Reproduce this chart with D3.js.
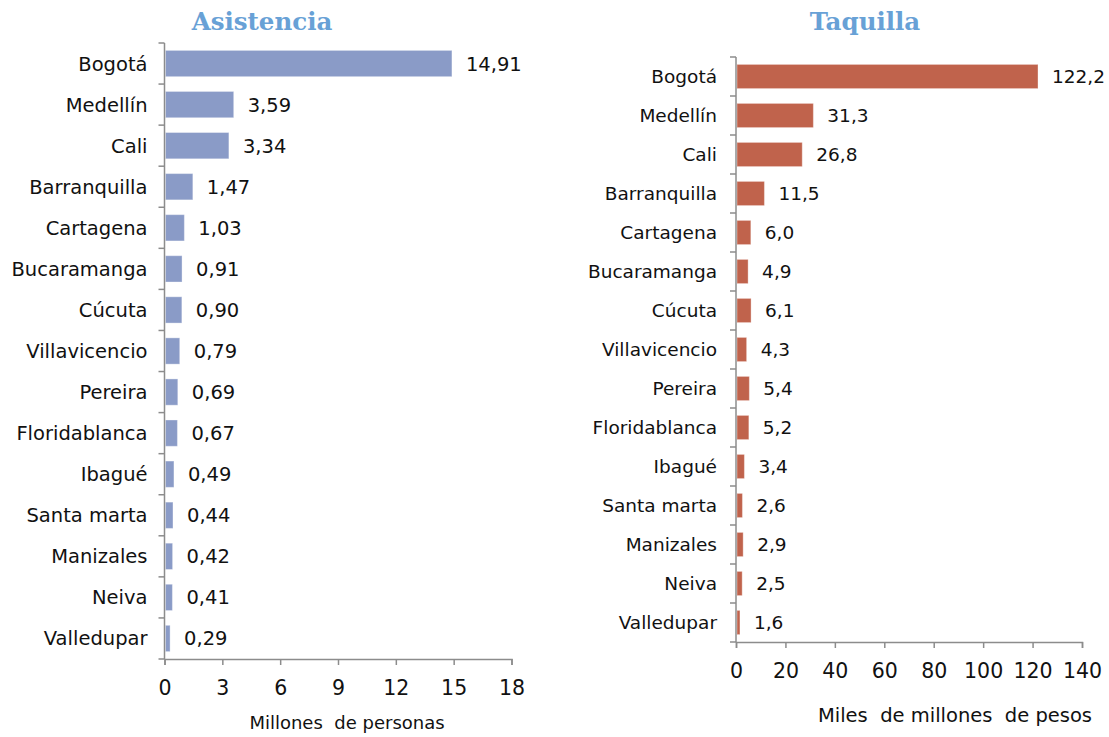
<!DOCTYPE html>
<html><head><meta charset="utf-8">
<script src="https://cdn.jsdelivr.net/npm/d3@7"></script>
<style>body{margin:0;background:#fff}svg{display:block}</style>
</head><body>
<svg id="c" width="1109" height="737"></svg>
<script>
const cities = ["Bogotá","Medellín","Cali","Barranquilla","Cartagena","Bucaramanga","Cúcuta","Villavicencio","Pereira","Floridablanca","Ibagué","Santa marta","Manizales","Neiva","Valledupar"];
const asistencia = [14.91,3.59,3.34,1.47,1.03,0.91,0.90,0.79,0.69,0.67,0.49,0.44,0.42,0.41,0.29];
const taquilla = [122.2,31.3,26.8,11.5,6.0,4.9,6.1,4.3,5.4,5.2,3.4,2.6,2.9,2.5,1.6];
const asisTicks = [0,3,6,9,12,15,18];
const taqTicks = [0,20,40,60,80,100,120,140];

const svg = d3.select("#c");
const FONT = "DejaVu Sans, Verdana, sans-serif";
const AX = "#8c8c8c";

function panel(o){
  const g = svg.append("g");
  const x = d3.scaleLinear().domain([0, o.ticks[o.ticks.length-1]]).range([o.x0, o.x1]);
  const y = d3.scaleBand().domain(cities).range([o.y0, o.y1]).paddingInner(o.pad).paddingOuter(o.pad/2);
  g.append("text").attr("x", o.tx).attr("y", o.ty).attr("text-anchor","middle")
    .attr("font-family","DejaVu Serif, Cambria, serif").attr("font-weight","bold")
    .attr("font-size",24.5).attr("fill","#68a1d6").text(o.title);
  g.selectAll("rect.b").data(o.values).join("rect")
    .attr("x", x(0)+1).attr("y",(d,i)=>y(cities[i]))
    .attr("width", d=>x(d)-x(0)-1).attr("height", y.bandwidth())
    .attr("fill", o.color).attr("stroke","#ffffff").attr("stroke-opacity",0.35).attr("stroke-width",1);
  g.selectAll("text.v").data(o.values).join("text")
    .attr("x", d=>x(d)+14).attr("y",(d,i)=>y(cities[i])+y.bandwidth()/2)
    .attr("dy","0.36em").attr("font-family",FONT).attr("font-size",o.fs).attr("fill","#111")
    .text(d=>d3.format(o.fmt)(d).replace(".",","));
  const yAxis = g.append("g").attr("transform",`translate(${x(0)},0)`);
  yAxis.append("line").attr("x1",0).attr("x2",0).attr("y1",o.y0).attr("y2",o.y1).attr("stroke",AX).attr("stroke-width",1.5);
  const step = (o.y1-o.y0)/cities.length;
  yAxis.selectAll("line.t").data(d3.range(cities.length+1)).join("line")
    .attr("x1",-6).attr("x2",0).attr("y1",i=>o.y0+i*step).attr("y2",i=>o.y0+i*step).attr("stroke",AX).attr("stroke-width",1.5);
  yAxis.selectAll("text").data(cities).join("text")
    .attr("x",o.lblOff).attr("y",d=>y(d)+y.bandwidth()/2).attr("dy","0.36em")
    .attr("text-anchor","end").attr("font-family",FONT).attr("font-size",o.fs).attr("fill","#111").text(d=>d);
  const xa = d3.axisBottom(x).tickValues(o.ticks).tickSize(6).tickPadding(o.tpad).tickFormat(d3.format("d"));
  const xg = g.append("g").attr("transform",`translate(0,${o.y1})`).call(xa);
  xg.select(".domain").attr("stroke",AX).attr("stroke-width",1.5);
  xg.selectAll(".tick line").attr("stroke",AX).attr("stroke-width",1.5);
  xg.selectAll(".tick text").attr("font-family",FONT).attr("font-size",o.tfs).attr("fill","#111");
  g.append("text").attr("x",o.lx).attr("y",o.ly).attr("text-anchor","middle")
    .attr("font-family",FONT).attr("font-size",o.lfs).attr("fill","#111").attr("xml:space","preserve").text(o.label);
}

panel({values:asistencia, ticks:asisTicks, x0:164.5, x1:511.5, y0:43, y1:659, pad:0.36, fs:19.5, tfs:20.5, tpad:15, lfs:18, lblOff:-17,
  color:"#8a9bc7", fmt:".2f", title:"Asistencia", tx:262, ty:30, label:"Millones  de personas", lx:347, ly:729});
panel({values:taquilla, ticks:taqTicks, x0:736, x1:1082, y0:57, y1:642, pad:0.38, fs:18.5, tfs:20.5, tpad:15, lfs:19.5, lblOff:-19,
  color:"#c0634c", fmt:".1f", title:"Taquilla", tx:865, ty:30, label:"Miles  de millones  de pesos", lx:955, ly:722});
</script>
</body></html>
